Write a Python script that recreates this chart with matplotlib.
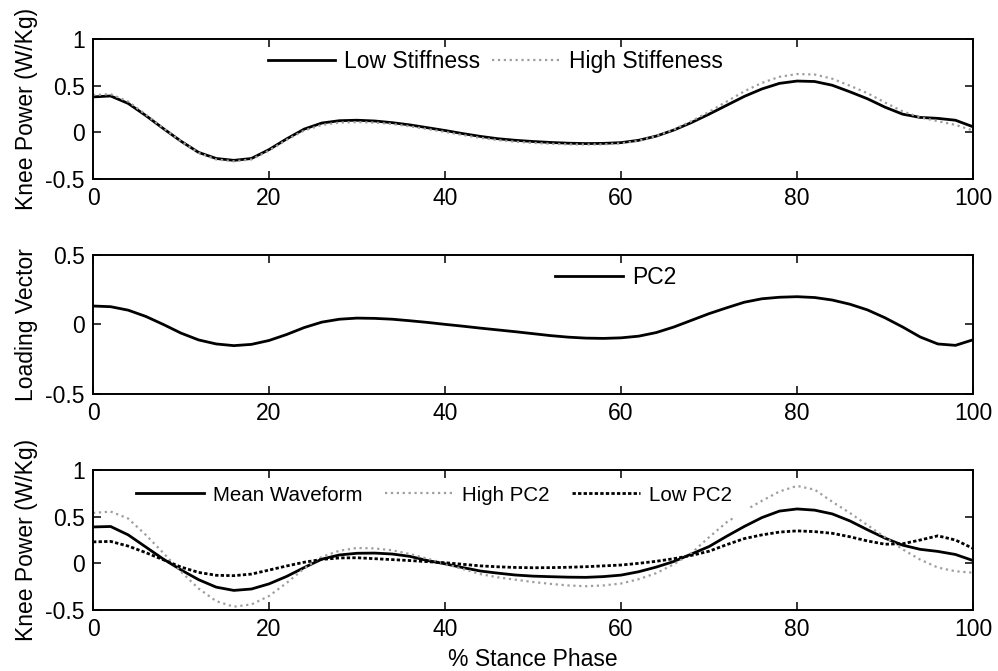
import matplotlib.pyplot as plt
import numpy as np

# -----------------------------
# data
# -----------------------------
stance = np.arange(0, 101, 2)

low_stiffness = [0.38, 0.39, 0.31, 0.18, 0.04, -0.095, -0.215, -0.28, -0.30, -0.28,
                 -0.185, -0.07, 0.035, 0.10, 0.125, 0.13, 0.122, 0.104, 0.08, 0.05,
                 0.02, -0.013, -0.043, -0.068, -0.085, -0.098, -0.108, -0.116, -0.12, -0.118,
                 -0.11, -0.085, -0.04, 0.025, 0.105, 0.195, 0.29, 0.385, 0.465, 0.525,
                 0.55, 0.545, 0.505, 0.435, 0.36, 0.27, 0.195, 0.16, 0.15, 0.13, 0.06]
high_stiffness = [0.40, 0.41, 0.33, 0.19, 0.045, -0.095, -0.22, -0.29, -0.31, -0.29,
                  -0.195, -0.08, 0.02, 0.08, 0.105, 0.11, 0.105, 0.09, 0.065, 0.035,
                  0.005, -0.028, -0.058, -0.083, -0.10, -0.113, -0.122, -0.128, -0.13, -0.128,
                  -0.118, -0.09, -0.04, 0.03, 0.12, 0.22, 0.33, 0.44, 0.53, 0.595,
                  0.625, 0.62, 0.575, 0.50, 0.42, 0.32, 0.225, 0.16, 0.12, 0.08, 0.02]

pc2_loading = [0.133, 0.128, 0.103, 0.058, 0.0, -0.062, -0.111, -0.14, -0.152, -0.143,
               -0.115, -0.072, -0.022, 0.017, 0.038, 0.046, 0.044, 0.038, 0.027, 0.015,
               0.001, -0.012, -0.026, -0.039, -0.052, -0.066, -0.08, -0.091, -0.098, -0.1,
               -0.096, -0.084, -0.058, -0.018, 0.03, 0.078, 0.12, 0.16, 0.185, 0.196,
               0.2, 0.194, 0.176, 0.146, 0.105, 0.048, -0.018, -0.09, -0.14, -0.15, -0.11]

mean_waveform = [0.39, 0.395, 0.305, 0.175, 0.045, -0.07, -0.175, -0.255, -0.29, -0.275,
                 -0.22, -0.14, -0.045, 0.045, 0.09, 0.108, 0.11, 0.10, 0.075, 0.03,
                 -0.005, -0.045, -0.082, -0.105, -0.125, -0.137, -0.143, -0.148, -0.15, -0.142,
                 -0.126, -0.09, -0.04, 0.02, 0.10, 0.18, 0.29, 0.395, 0.49, 0.56,
                 0.583, 0.57, 0.53, 0.455, 0.36, 0.27, 0.195, 0.15, 0.128, 0.095, 0.03]
# high PC2 has a small break in the line around 74 %
stance_high = [0, 2, 4, 6, 8, 10, 12, 14, 16, 18, 20, 22, 24, 26, 28, 30, 32, 34, 36, 38,
               40, 42, 44, 46, 48, 50, 52, 54, 56, 58, 60, 62, 64, 66, 68, 70, 72, 73,
               73.9, 74.7, 76, 78, 80, 82, 84, 86, 88, 90, 92, 94, 96, 98, 100]
high_pc2 = [0.54, 0.555, 0.48, 0.305, 0.11, -0.09, -0.27, -0.405, -0.465, -0.44,
            -0.35, -0.21, -0.055, 0.07, 0.135, 0.165, 0.16, 0.14, 0.10, 0.05,
            -0.005, -0.06, -0.115, -0.15, -0.175, -0.20, -0.22, -0.237, -0.245, -0.237,
            -0.216, -0.17, -0.105, -0.01, 0.11, 0.28, 0.44, 0.50,
            np.nan, 0.60, 0.67, 0.77, 0.83, 0.79, 0.66, 0.54, 0.41, 0.28, 0.15, 0.04,
            -0.045, -0.085, -0.10]
low_pc2 = [0.23, 0.235, 0.185, 0.115, 0.038, -0.04, -0.097, -0.128, -0.132, -0.115,
           -0.072, -0.028, 0.012, 0.042, 0.058, 0.06, 0.05, 0.04, 0.03, 0.018,
           0.007, -0.01, -0.027, -0.037, -0.044, -0.047, -0.046, -0.042, -0.036, -0.027,
           -0.018, 0.0, 0.022, 0.05, 0.085, 0.13, 0.20, 0.265, 0.305, 0.335,
           0.348, 0.34, 0.322, 0.285, 0.24, 0.205, 0.21, 0.25, 0.295, 0.25, 0.16]

xticks = [0, 20, 40, 60, 80, 100]
power_ticks = [-0.5, 0, 0.5, 1]
power_ticklabels = ["-0.5", "0", "0.5", "1"]
loading_ticks = [-0.5, 0, 0.5]
loading_ticklabels = ["-0.5", "0", "0.5"]

# -----------------------------
# style
# -----------------------------
plt.rcParams["font.family"] = ["Liberation Sans", "DejaVu Sans"]
plt.rcParams["font.size"] = 16.5
plt.rcParams["lines.solid_joinstyle"] = "round"
gray = "0.62"
fs = 16.5

fig = plt.figure(figsize=(9.98, 6.71), dpi=100)
ax1 = fig.add_axes([0.0932, 0.7332, 0.8818, 0.2086])
ax2 = fig.add_axes([0.0932, 0.4128, 0.8818, 0.2072])
ax3 = fig.add_axes([0.0932, 0.0909, 0.8818, 0.2086])


def style_axis(ax, yticks, yticklabels):
    ax.set_xlim(0, 100)
    ax.set_ylim(yticks[0], yticks[-1])
    ax.set_xticks(xticks)
    ax.set_xticklabels([str(t) for t in xticks])
    ax.set_yticks(yticks)
    ax.set_yticklabels(yticklabels)
    ax.tick_params(direction="in", length=6, width=1.1, top=True, right=True,
                   labelsize=fs)
    ax.tick_params(axis="x", pad=6)
    ax.tick_params(axis="y", pad=6)
    for s in ax.spines.values():
        s.set_linewidth(1.4)


leg_kw = dict(loc="center", frameon=False, fontsize=fs, handlelength=2.95,
              handletextpad=0.4, borderpad=0)

# -----------------------------
# top: knee power, stiffness
# -----------------------------
ax1.plot(stance, low_stiffness, color="black", lw=2.0, label="Low Stiffness")
ax1.plot(stance, high_stiffness, color=gray, lw=1.6, ls=":", label="High Stiffeness")
style_axis(ax1, power_ticks, power_ticklabels)
ax1.set_ylabel("Knee Power (W/Kg)", fontsize=fs)
ax1.yaxis.set_label_coords(-0.063, 0.5)
ax1.legend(bbox_to_anchor=(0.457, 0.843), ncol=2, columnspacing=0.5, **leg_kw)

# -----------------------------
# middle: PC2 loading vector
# -----------------------------
ax2.plot(stance, pc2_loading, color="black", lw=2.0, label="PC2")
style_axis(ax2, loading_ticks, loading_ticklabels)
ax2.set_ylabel("Loading Vector", fontsize=fs)
ax2.yaxis.set_label_coords(-0.063, 0.5)
ax2.legend(bbox_to_anchor=(0.594, 0.835), **leg_kw)

# -----------------------------
# bottom: reconstructed waveforms
# -----------------------------
ax3.plot(stance, mean_waveform, color="black", lw=2.0, label="Mean Waveform")
ax3.plot(stance_high, high_pc2, color=gray, lw=1.6, ls=":", label="High PC2")
ax3.plot(stance, low_pc2, color="black", lw=2.0, ls=(0, (1.2, 0.8)), label="Low PC2")
style_axis(ax3, power_ticks, power_ticklabels)
ax3.set_ylabel("Knee Power (W/Kg)", fontsize=fs)
ax3.yaxis.set_label_coords(-0.063, 0.5)
ax3.set_xlabel("% Stance Phase", fontsize=fs, labelpad=5)
ax3.legend(bbox_to_anchor=(0.3875, 0.821), ncol=3, loc="center", frameon=False,
           fontsize=14.8, handlelength=3.3, handletextpad=0.44, columnspacing=1.1,
           borderpad=0)

fig.savefig("out.png", dpi=100)
